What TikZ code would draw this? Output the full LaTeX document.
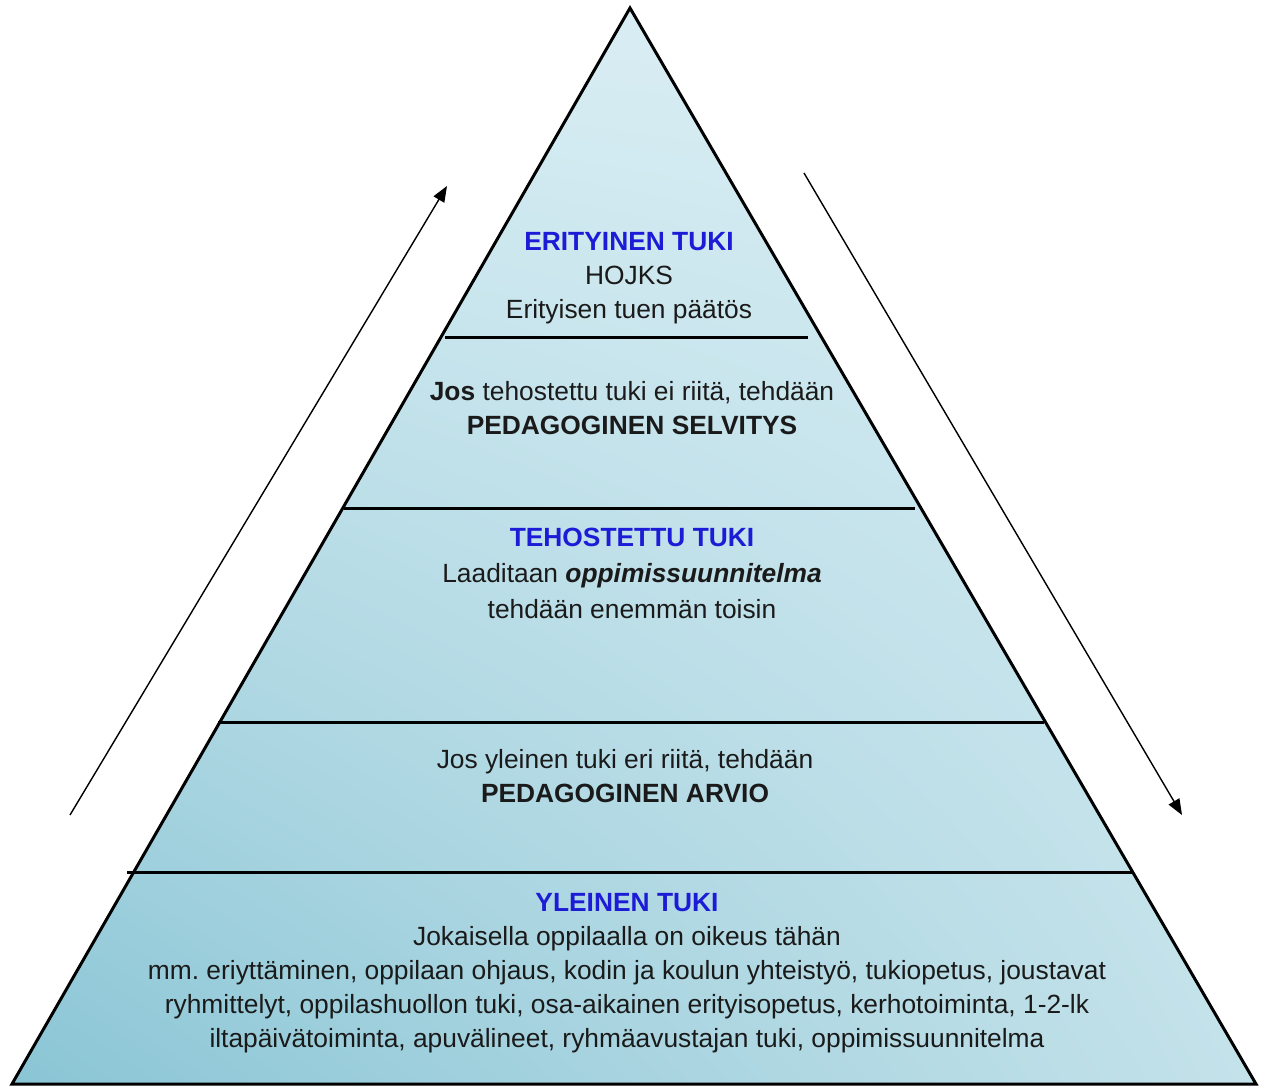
\documentclass[tikz,border=0pt]{standalone}
\usepackage{fontspec}
\setmainfont{Liberation Sans}
\usetikzlibrary{arrows.meta,shadings}
\definecolor{tblue}{HTML}{1C1CD6}
\definecolor{ttext}{HTML}{1A1A1A}
\definecolor{cUL}{HTML}{D8EDF3}
\definecolor{cUR}{HTML}{DAEEF4}
\definecolor{cLL}{HTML}{8AC5D5}
\definecolor{cLR}{HTML}{C4E2EA}
\tikzset{
  txt/.style={align=center, inner sep=0pt, text=ttext, font=\frenchspacing\fontsize{15}{19.4}\selectfont},
  widetxt/.style={txt, font=\frenchspacing\fontsize{15}{20.5}\selectfont},
  divider/.style={line width=1.7pt, black},
  outline/.style={line width=1.7pt, black, line join=miter},
  flow/.style={line width=0.8pt, black, -{Triangle[length=9pt,width=7pt]}}
}
\begin{document}
\begin{tikzpicture}[x=0.02cm, y=-0.02cm]
\useasboundingbox (0,0) rectangle (1261,1086);
\coordinate (apex) at (630,8);
\coordinate (bl) at (12,1084);
\coordinate (br) at (1256,1084);
% fill
\shade[upper left=cUL, upper right=cUR, lower left=cLL, lower right=cLR] (apex) -- (br) -- (bl) -- cycle;
% dividers
\coordinate (d1l) at (445,337); \coordinate (d1r) at (808,337);
\coordinate (d2l) at (344,508); \coordinate (d2r) at (915,508);
\coordinate (d3l) at (218,722); \coordinate (d3r) at (1044,722);
\coordinate (d4l) at (127,872); \coordinate (d4r) at (1134,872);
\draw[divider] (d1l) -- (d1r);
\draw[divider] (d2l) -- (d2r);
\draw[divider] (d3l) -- (d3r);
\draw[divider] (d4l) -- (d4r);
\draw[outline] (apex) -- (br) -- (bl) -- cycle;
% arrows
\coordinate (upS) at (70,815); \coordinate (upE) at (447,186);
\coordinate (dnS) at (804,173); \coordinate (dnE) at (1182,815);
\draw[flow] (upS) -- (upE);
\draw[flow] (dnS) -- (dnE);
% texts
\node[txt] (t1) at (629,278) {{\bfseries\color{tblue}ERITYINEN TUKI}\\HOJKS\\Erityisen tuen päätös};
\node[txt] (t2) at (632,408) {\textbf{Jos} tehostettu tuki ei riitä, tehdään\\\textbf{PEDAGOGINEN SELVITYS}};
\node[widetxt] (t3) at (632,573) {{\bfseries\color{tblue}TEHOSTETTU TUKI}\\Laaditaan \textbf{\textit{oppimissuunnitelma}}\\tehdään enemmän toisin};
\node[txt] (t4) at (625,776) {Jos yleinen tuki eri riitä, tehdään\\\textbf{PEDAGOGINEN ARVIO}};
\node[txt] (t5) at (627,973) {{\bfseries\color{tblue}YLEINEN TUKI}\\Jokaisella oppilaalla on oikeus tähän\\mm. eriyttäminen, oppilaan ohjaus, kodin ja koulun yhteistyö, tukiopetus, joustavat\\ryhmittelyt, oppilashuollon tuki, osa-aikainen erityisopetus, kerhotoiminta, 1-2-lk\\iltapäivätoiminta, apuvälineet, ryhmäavustajan tuki, oppimissuunnitelma};
\end{tikzpicture}
\end{document}
